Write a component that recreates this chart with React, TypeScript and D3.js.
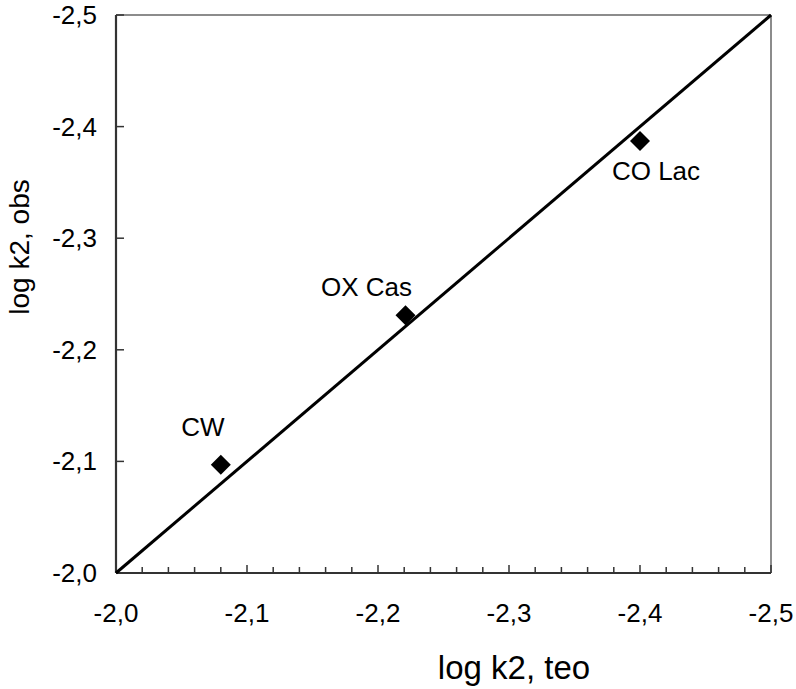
import React, { useEffect, useRef } from 'react';
import * as d3 from 'd3';

// data
const names = ['CW', 'OX Cas', 'CO Lac'];
const teo = [-2.08, -2.221, -2.4];
const obs = [-2.097, -2.231, -2.387];
const axisDomain = [-2.0, -2.5];
const majorTicks = [-2.0, -2.1, -2.2, -2.3, -2.4, -2.5];
const minorTicksX = [-2.02, -2.04, -2.06, -2.08, -2.12, -2.14, -2.16, -2.18, -2.22, -2.24, -2.26, -2.28, -2.32, -2.34, -2.36, -2.38, -2.42, -2.44, -2.46, -2.48];
const xTitle = 'log k2, teo';
const yTitle = 'log k2, obs';

// label placement relative to marker (px)
const labelOffsets = [
  [-18, -29],
  [-39, -19],
  [16, 39],
];

export default function App() {
  const ref = useRef<SVGSVGElement | null>(null);

  useEffect(() => {
    draw();
    // eslint-disable-next-line react-hooks/exhaustive-deps
  }, []);

  function draw() {
    const svg = d3.select(ref.current);
    svg.selectAll('*').remove();
    const margin = { top: 15, right: 25, bottom: 116, left: 116 };
    const width = 796;
    const height = 689;
    const innerWidth = width - margin.left - margin.right;
    const innerHeight = height - margin.top - margin.bottom;
    const fmt = (d: number) => d.toFixed(1).replace('.', ',');

    const g = svg.append('g').attr('transform', `translate(${margin.left},${margin.top})`);

    const xScale = d3.scaleLinear().domain(axisDomain).range([0, innerWidth]);
    const yScale = d3.scaleLinear().domain(axisDomain).range([innerHeight, 0]);

    // frame: top and right gray
    g.append('line').attr('x1', 0).attr('x2', innerWidth).attr('y1', 0).attr('y2', 0)
      .attr('stroke', '#8c8c8c').attr('stroke-width', 2);
    g.append('line').attr('x1', innerWidth).attr('x2', innerWidth).attr('y1', 0).attr('y2', innerHeight)
      .attr('stroke', '#8c8c8c').attr('stroke-width', 2);

    // x axis ticks (inside)
    g.selectAll('.minor-x')
      .data(minorTicksX)
      .join('line')
      .attr('x1', (d) => xScale(d))
      .attr('x2', (d) => xScale(d))
      .attr('y1', innerHeight)
      .attr('y2', innerHeight - 6)
      .attr('stroke', '#333')
      .attr('stroke-width', 1.5);
    g.selectAll('.major-x')
      .data(majorTicks)
      .join('line')
      .attr('x1', (d) => xScale(d))
      .attr('x2', (d) => xScale(d))
      .attr('y1', innerHeight)
      .attr('y2', innerHeight - 8)
      .attr('stroke', '#333')
      .attr('stroke-width', 1.5);
    g.selectAll('.major-y')
      .data(majorTicks)
      .join('line')
      .attr('x1', 0)
      .attr('x2', 8)
      .attr('y1', (d) => yScale(d))
      .attr('y2', (d) => yScale(d))
      .attr('stroke', '#333')
      .attr('stroke-width', 1.5);

    // axis lines
    g.append('line').attr('x1', 0).attr('x2', innerWidth).attr('y1', innerHeight).attr('y2', innerHeight)
      .attr('stroke', '#333').attr('stroke-width', 2.2);
    g.append('line').attr('x1', 0).attr('x2', 0).attr('y1', 0).attr('y2', innerHeight)
      .attr('stroke', '#333').attr('stroke-width', 2.2);

    // tick labels
    g.selectAll('.x-label')
      .data(majorTicks)
      .join('text')
      .attr('x', (d) => xScale(d))
      .attr('y', innerHeight + 49)
      .attr('text-anchor', 'middle')
      .attr('font-size', 26)
      .text(fmt);
    g.selectAll('.y-label')
      .data(majorTicks)
      .join('text')
      .attr('x', -19)
      .attr('y', (d) => yScale(d) + 9)
      .attr('text-anchor', 'end')
      .attr('font-size', 26)
      .text(fmt);

    // identity line
    g.append('line')
      .attr('x1', xScale(axisDomain[0]))
      .attr('y1', yScale(axisDomain[0]))
      .attr('x2', xScale(axisDomain[1]))
      .attr('y2', yScale(axisDomain[1]))
      .attr('stroke', '#000')
      .attr('stroke-width', 3);

    // markers
    const diamond = d3.symbol().type(d3.symbolSquare).size(200);
    g.selectAll('.pt')
      .data(names)
      .join('path')
      .attr('d', diamond)
      .attr('transform', (_, i) => `translate(${xScale(teo[i])},${yScale(obs[i])}) rotate(45)`)
      .attr('fill', '#000');

    g.selectAll('.pt-label')
      .data(names)
      .join('text')
      .attr('x', (_, i) => xScale(teo[i]) + labelOffsets[i][0])
      .attr('y', (_, i) => yScale(obs[i]) + labelOffsets[i][1])
      .attr('text-anchor', 'middle')
      .attr('font-size', 26)
      .text((d) => d);

    // axis titles
    svg.append('text')
      .attr('x', 514)
      .attr('y', 679)
      .attr('text-anchor', 'middle')
      .attr('font-size', 33)
      .text(xTitle);
    svg.append('text')
      .attr('transform', 'translate(29,247) rotate(-90)')
      .attr('text-anchor', 'middle')
      .attr('font-size', 28)
      .text(yTitle);
  }

  return (
    <div style={{ position: 'absolute', left: 0, top: 0 }}>
      <svg
        ref={ref}
        width={796}
        height={689}
        style={{ display: 'block', background: '#fff', fontFamily: '"Liberation Sans", Arial, sans-serif' }}
      />
    </div>
  );
}
